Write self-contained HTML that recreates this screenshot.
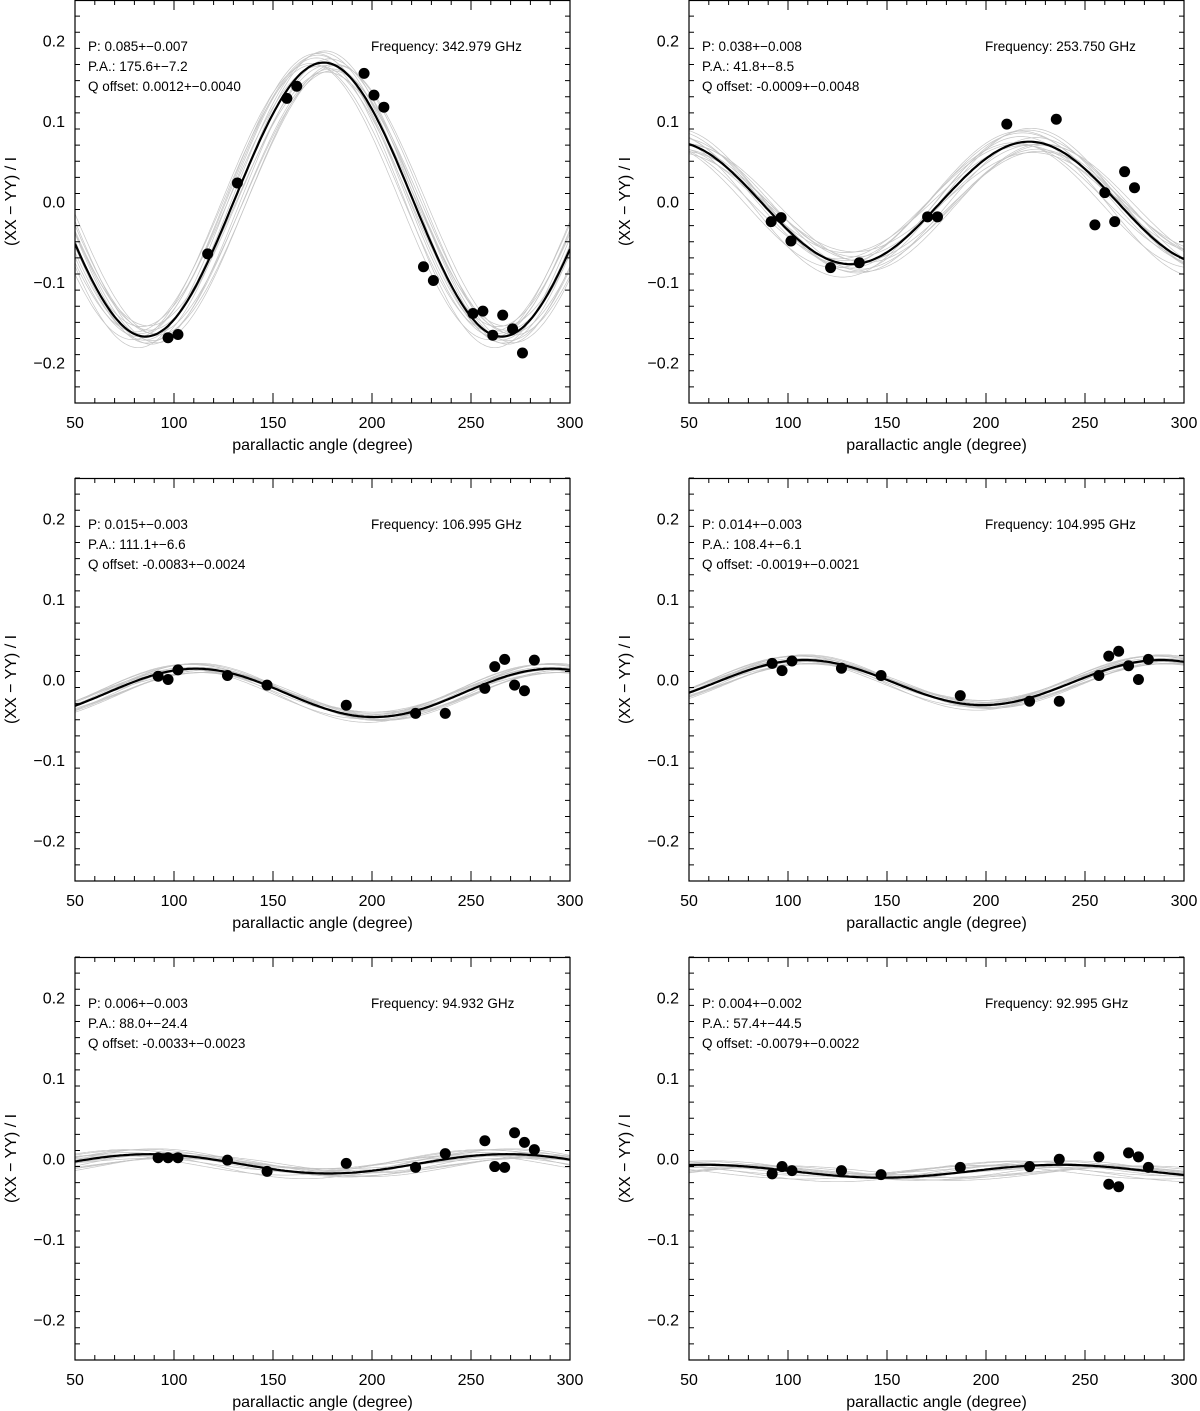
<!DOCTYPE html>
<html><head><meta charset="utf-8"><style>
html,body{margin:0;padding:0;background:#fff;}
svg{display:block;font-family:"Liberation Sans","DejaVu Sans",sans-serif;}
</style></head><body>
<svg id="c" width="1200" height="1411" viewBox="0 0 1200 1411"></svg>
<script>
const freqs=["342.979","253.750","106.995","104.995","94.932","92.995"];
const pVals=[0.085,0.038,0.015,0.014,0.006,0.004];
const pErr=[0.007,0.008,0.003,0.003,0.003,0.002];
const paVals=[175.6,41.8,111.1,108.4,88.0,57.4];
const paErr=[7.2,8.5,6.6,6.1,24.4,44.5];
const qVals=[0.0012,-0.0009,-0.0083,-0.0019,-0.0033,-0.0079];
const qErr=[0.0040,0.0048,0.0024,0.0021,0.0023,0.0022];
const xs1=[97,102,117,132,157,162,196,201,206,226,231,251,256,261,266,271,276];
const ys1=[-0.169,-0.165,-0.065,0.023,0.128,0.143,0.159,0.132,0.117,-0.081,-0.098,-0.139,-0.136,-0.166,-0.141,-0.158,-0.188];
const xs2=[91.5,96.5,101.5,121.5,136,170.5,175.5,210.5,235.5,255,260,265,270,275];
const ys2=[-0.025,-0.020,-0.049,-0.082,-0.076,-0.019,-0.019,0.096,0.102,-0.029,0.011,-0.025,0.037,0.017];
const xsB=[92,97,102,127,147,187,222,237,257,262,267,272,277,282];
const ys3=[0.004,0,0.012,0.005,-0.007,-0.032,-0.042,-0.042,-0.011,0.016,0.025,-0.007,-0.014,0.024];
const ys4=[0.020,0.011,0.023,0.014,0.005,-0.020,-0.027,-0.027,0.005,0.029,0.035,0.017,0,0.025];
const ys5=[0.001,0.001,0.001,-0.002,-0.016,-0.006,-0.011,0.006,0.022,-0.010,-0.011,0.032,0.020,0.011];
const ys6=[-0.019,-0.010,-0.015,-0.015,-0.020,-0.011,-0.010,-0.001,0.002,-0.032,-0.035,0.007,0.002,-0.011];
// normalized bootstrap offsets (in units of error) for grey curves
const dP=[0.5,-0.6,0.2,-0.3,0.8,-0.1,0.4,-0.9,0.1,0.6,-0.5,0.2,-0.2,0.7,-0.4];
const dPA=[0.4,-0.3,0.8,-0.7,0.1,0.5,-0.5,0.2,-0.9,-0.1,0.6,-0.4,0.9,-0.5,0.3];
const dQ=[-0.3,0.5,-0.6,0.2,0.4,-0.8,0.7,0.1,-0.3,0.5,-0.4,0.8,-0.1,-0.5,0.3];
const xTicks=[50,100,150,200,250,300];
const yTicks=[0.2,0.1,0.0,-0.1,-0.2];
const yTickLabels=["0.2","0.1","0.0","\u22120.1","\u22120.2"];
const ptsX=[xs1,xs2,xsB,xsB,xsB,xsB];
const ptsY=[ys1,ys2,ys3,ys4,ys5,ys6];

const NS="http://www.w3.org/2000/svg";
const svg=document.getElementById('c');
function mk(tag,attrs,parent){const e=document.createElementNS(NS,tag);for(const k in attrs)e.setAttribute(k,attrs[k]);(parent||svg).appendChild(e);return e;}
const lefts=[75,689],tops=[0,478,957],W=495,H=403;
function model(x,P,PA,Q){return 2*P*Math.cos(2*(x-PA)*Math.PI/180)+2*Q;}

for(let i=0;i<6;i++){
  const L=lefts[i%2],T=tops[Math.floor(i/2)];
  const sx=v=>L+(v-50)/250*W, sy=v=>T+(0.25-v)/0.5*H;
  const g=mk('g',{});
  
  
  const cp=mk('clipPath',{id:'cl'+i},g);mk('rect',{x:L,y:T,width:W,height:H},cp);
  const curves=mk('g',{'clip-path':'url(#cl'+i+')'},g);
  
  
  for(let k=0;k<dP.length;k++){
    let d='';
    for(let x=50;x<=300;x+=1){d+=(x===50?'M':'L')+sx(x).toFixed(1)+','+sy(model(x,pVals[i]+dP[k]*pErr[i],paVals[i]+dPA[k]*paErr[i],qVals[i]+dQ[k]*qErr[i])).toFixed(1);}
    const p=mk('path',{d:d,fill:'none',stroke:'#c4c4c4','stroke-width':0.7},curves);
    
    
  }
  let d='';
  for(let x=50;x<=300;x+=1){d+=(x===50?'M':'L')+sx(x).toFixed(1)+','+sy(model(x,pVals[i],paVals[i],qVals[i])).toFixed(1);}
  const fit=mk('path',{d:d,fill:'none',stroke:'#000','stroke-width':2.2},curves);
  
  
  for(let k=0;k<ptsX[i].length;k++){
    const c=mk('circle',{cx:sx(ptsX[i][k]),cy:sy(ptsY[i][k]),r:5.5,fill:'#000'},g);
    
    
  }
  const fr=mk('rect',{x:L,y:T+0.5,width:W,height:H-0.5,fill:'none',stroke:'#000','stroke-width':1.2},g);
  
  
  let td='';
  for(let x=50;x<=300;x+=10){const len=(x%50===0)?10:5;td+=`M${sx(x)},${T+H}v${-len}M${sx(x)},${T}v${len}`;}
  for(let yi=-25;yi<=25;yi+=2){const v=yi/100;const len=(yi%10===0)?10:5;td+=`M${L},${sy(v)}h${len}M${L+W},${sy(v)}h${-len}`;}
  const tk=mk('path',{d:td,stroke:'#000','stroke-width':1,fill:'none'},g);
  
  
  xTicks.forEach(v=>{const t=mk('text',{x:sx(v),y:T+H+25,'font-size':16,'text-anchor':'middle'},g);t.textContent=v;
    });
  yTicks.forEach((v,j)=>{const t=mk('text',{x:L-10,y:sy(v)+6,'font-size':16,'text-anchor':'end'},g);t.textContent=yTickLabels[j];
    });
  const xt=mk('text',{x:L+W/2,y:T+H+47,'font-size':16,'text-anchor':'middle'},g);xt.textContent='parallactic angle (degree)';
  
  const yt=mk('text',{x:0,y:0,'font-size':16,'text-anchor':'middle',transform:`translate(${L-59},${T+H/2}) rotate(-90)`},g);yt.textContent='(XX \u2212 YY) / I';
  
  const lines=['P: '+pVals[i].toFixed(3)+'+\u2212'+pErr[i].toFixed(3),'P.A.: '+paVals[i].toFixed(1)+'+\u2212'+paErr[i].toFixed(1),'Q offset: '+qVals[i].toFixed(4)+'+\u2212'+qErr[i].toFixed(4)];
  lines.forEach((s,j)=>{const t=mk('text',{x:L+13,y:T+51+j*20,'font-size':13.5},g);t.textContent=s;
    });
  const ft=mk('text',{x:L+296,y:T+51,'font-size':13.5},g);ft.textContent='Frequency: '+freqs[i]+' GHz';
  
}
</script>
</body></html>
